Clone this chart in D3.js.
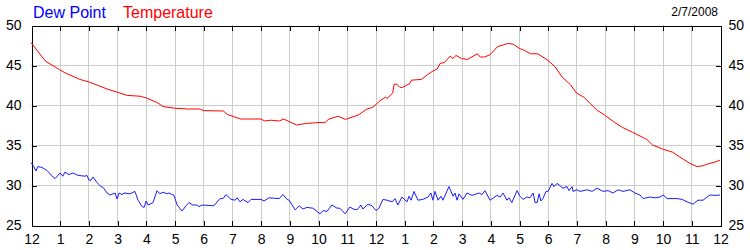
<!DOCTYPE html>
<html><head><meta charset="utf-8">
<script src="https://cdn.jsdelivr.net/npm/d3@7"></script>
<style>body{margin:0;background:#fff}svg{display:block}text{font-family:"Liberation Sans",Arial,sans-serif}</style>
</head><body><svg id="c" width="750" height="250"></svg>
<script>
const hourLabels = ["12","1","2","3","4","5","6","7","8","9","10","11","12","1","2","3","4","5","6","7","8","9","10","11","12"];
const yTicks = [25,30,35,40,45,50];
const dateLabel = "2/7/2008";
const seriesNames = ["Dew Point","Temperature"];
// [hour of day, °F]
const temperature = [[0,47.8],[0.5,45.5],[1,44.4],[1.2,44.0],[1.7,43.2],[2,42.9],[2.3,42.5],[2.65,42.0],[3,41.6],[3.35,41.2],[3.8,41.1],[4,40.9],[4.4,40.3],[4.6,39.8],[5,39.6],[5.45,39.5],[5.9,39.5],[6,39.3],[6.7,39.25],[6.85,38.8],[7.3,38.25],[8,38.25],[8.15,38.0],[8.35,38.1],[8.65,38.0],[8.8,38.25],[8.95,38.0],[9.25,37.5],[9.6,37.7],[10,37.8],[10.25,37.8],[10.35,38.2],[10.7,38.6],[10.95,38.2],[11.4,38.75],[11.7,39.5],[11.9,39.7],[12.15,40.5],[12.35,41.0],[12.4,40.8],[12.6,41.5],[12.65,42.6],[12.75,42.6],[12.85,42.2],[12.95,42.2],[13.2,42.7],[13.25,43.1],[13.6,43.2],[13.8,43.75],[14,44.25],[14.15,44.5],[14.25,45.2],[14.4,45.3],[14.6,46.1],[14.7,45.8],[14.8,46.2],[15,45.8],[15.2,45.7],[15.35,46.0],[15.55,46.4],[15.65,46.0],[15.8,46.0],[16,46.3],[16.25,47.3],[16.45,47.5],[16.6,47.7],[16.8,47.6],[17,47.1],[17.2,46.8],[17.4,46.4],[17.65,46.4],[18,45.6],[18.25,44.8],[18.5,43.5],[18.8,42.5],[19,41.5],[19.25,41.0],[19.45,40.3],[19.7,39.4],[20,38.7],[20.3,37.9],[20.6,37.2],[20.95,36.6],[21.45,35.7],[21.65,35.0],[22,34.5],[22.35,34.1],[22.6,33.5],[22.95,32.7],[23.2,32.3],[23.4,32.4],[23.55,32.6],[23.85,32.9],[24,33.1]];
const dewPoint = [[0,32.8],[0.1,32.3],[0.17,31.75],[0.24,32.3],[0.38,32.2],[0.56,31.8],[0.77,31.0],[0.84,30.8],[1.01,31.5],[1.11,31.1],[1.18,31.6],[1.32,31.3],[1.46,31.5],[1.64,31.2],[1.88,31.1],[1.95,31.2],[2.02,30.6],[2.09,30.6],[2.16,31.0],[2.3,30.3],[2.44,29.8],[2.51,29.7],[2.65,29.0],[2.75,28.75],[2.93,29.0],[3.0,28.25],[3.07,29.0],[3.17,28.8],[3.24,29.0],[3.45,28.9],[3.62,29.2],[3.73,28.1],[3.87,27.3],[3.94,27.2],[4.01,28.0],[4.08,27.5],[4.25,27.8],[4.39,29.3],[4.49,28.9],[4.6,29.1],[4.74,28.9],[4.81,29.0],[4.98,28.7],[5.09,27.5],[5.26,26.75],[5.4,27.4],[5.5,27.8],[5.64,27.5],[5.78,27.5],[5.85,27.3],[5.96,27.5],[6.37,27.4],[6.58,28.3],[6.69,28.3],[6.79,28.8],[6.97,28.2],[7.11,28.1],[7.18,28.4],[7.28,27.9],[7.38,28.2],[7.56,27.8],[7.66,28.2],[8.01,28.2],[8.12,28.0],[8.29,28.4],[8.64,28.3],[8.78,28.8],[8.92,28.2],[8.99,28.1],[9.2,26.9],[9.34,27.4],[9.47,27.0],[9.61,27.2],[9.82,27.1],[9.96,26.7],[10.07,26.4],[10.17,26.8],[10.31,26.7],[10.48,27.5],[10.66,27.1],[10.76,27.1],[10.94,26.4],[11.11,27.25],[11.22,27.0],[11.36,26.9],[11.49,27.5],[11.56,27.0],[11.74,27.6],[11.88,27.4],[12.02,26.8],[12.12,27.1],[12.26,28.2],[12.4,28.1],[12.58,27.9],[12.68,28.3],[12.78,27.5],[12.92,28.5],[13.1,27.9],[13.17,28.6],[13.24,28.1],[13.34,29.2],[13.48,28.1],[13.65,28.2],[13.83,28.5],[13.93,29.0],[14.0,28.1],[14.07,29.2],[14.18,28.1],[14.28,28.6],[14.35,28.1],[14.56,29.8],[14.7,28.6],[14.77,29.0],[14.84,28.1],[14.91,28.9],[15.05,28.2],[15.19,29.0],[15.36,28.7],[15.61,29.0],[15.71,28.8],[15.81,29.3],[15.99,28.1],[16.23,28.7],[16.34,28.5],[16.44,29.0],[16.58,28.1],[16.65,28.4],[16.75,27.8],[16.93,29.3],[17.03,28.6],[17.14,28.2],[17.28,28.5],[17.38,28.4],[17.49,29.0],[17.56,27.8],[17.63,27.8],[17.7,28.9],[17.76,28.0],[17.83,28.3],[17.94,29.2],[18.01,29.2],[18.15,30.2],[18.22,29.8],[18.32,30.2],[18.43,29.9],[18.53,29.6],[18.67,29.8],[18.74,29.3],[18.85,29.8],[18.88,29.2],[19.02,29.4],[19.12,29.2],[19.37,29.4],[19.54,29.2],[19.72,29.6],[19.92,29.2],[20.1,29.3],[20.27,29.0],[20.45,29.4],[20.62,29.2],[20.86,29.4],[21.04,29.0],[21.21,28.75],[21.32,28.3],[21.56,28.5],[21.74,28.4],[21.91,28.5],[22.02,28.75],[22.16,28.3],[22.51,28.3],[22.68,28.2],[22.85,27.9],[23.06,27.6],[23.23,28.1],[23.41,28.1],[23.55,28.5],[23.65,28.75],[23.83,28.7],[24,28.75]];

const svg = d3.select("#c");
const L = 31, R = 720, T = 25, B = 225;
const x = d3.scaleLinear().domain([0,24]).range([L,R]);
const y = d3.scaleLinear().domain([25,50]).range([B,T]);
const hours = d3.range(0,25);

// grid
svg.append("g").selectAll("line").data(hours.slice(1,-1)).join("line")
  .attr("x1",d=>x(d)+0.5).attr("x2",d=>x(d)+0.5).attr("y1",T).attr("y2",B)
  .attr("stroke","#cccccc").attr("shape-rendering","crispEdges");
svg.append("g").selectAll("line").data(yTicks.slice(1,-1)).join("line")
  .attr("x1",L).attr("x2",R).attr("y1",d=>y(d)+0.5).attr("y2",d=>y(d)+0.5)
  .attr("stroke","#cccccc").attr("shape-rendering","crispEdges");

// axes with inward ticks
const fmtH = (d,i)=>hourLabels[i];
const gB = svg.append("g").attr("transform",`translate(0.5,${B+0.5})`)
  .call(d3.axisBottom(x).tickValues(hours).tickSize(-5).tickPadding(10).tickFormat(fmtH));
const gT = svg.append("g").attr("transform",`translate(0.5,${T+0.5})`)
  .call(d3.axisTop(x).tickValues(hours).tickSize(-5).tickFormat(""));
const gL = svg.append("g").attr("transform",`translate(${L+0.5},0.5)`)
  .call(d3.axisLeft(y).tickValues(yTicks).tickSize(-5).tickPadding(10).tickFormat(d3.format("d")));
const gR = svg.append("g").attr("transform",`translate(${R+0.5},0.5)`)
  .call(d3.axisRight(y).tickValues(yTicks).tickSize(-5).tickPadding(8).tickFormat(d3.format("d")));
svg.selectAll(".domain").attr("stroke","#000").attr("shape-rendering","crispEdges");
svg.selectAll(".tick line").attr("stroke","#000").attr("shape-rendering","crispEdges");
svg.selectAll(".tick text").attr("font-size",14).attr("fill","#000").attr("font-family","'Liberation Sans',Arial,sans-serif");
gB.selectAll(".tick text").attr("dy","0.6em");

// lines
const line = d3.line().x(d=>x(d[0])).y(d=>y(d[1]));
svg.append("path").datum(temperature).attr("d",line).attr("fill","none").attr("stroke","#ff0000").attr("stroke-width",1);
svg.append("path").datum(dewPoint).attr("d",line).attr("fill","none").attr("stroke","#1a1aff").attr("stroke-width",1);

// legend + date
svg.append("text").attr("x",33).attr("y",18).attr("font-size",16).attr("fill","#0000ff").text(seriesNames[0]);
svg.append("text").attr("x",123).attr("y",18).attr("font-size",16).attr("fill","#ff0000").text(seriesNames[1]);
svg.append("text").attr("x",718).attr("y",16).attr("font-size",12).attr("text-anchor","end").attr("fill","#000").text(dateLabel);
</script></body></html>
